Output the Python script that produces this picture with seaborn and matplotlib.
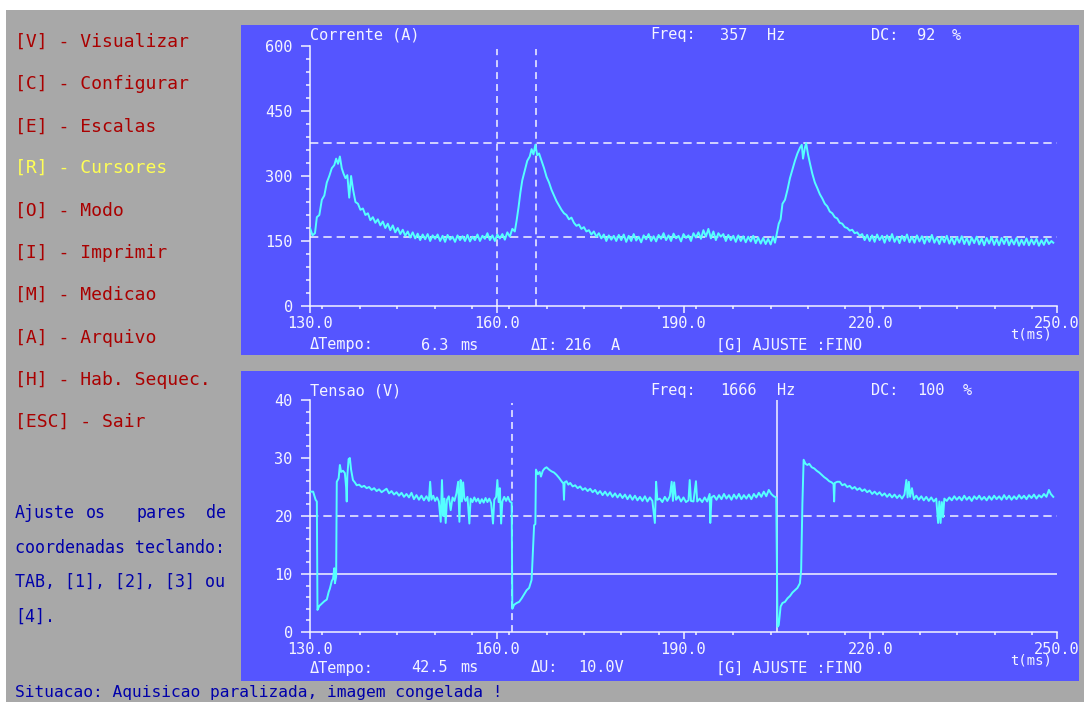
import matplotlib
matplotlib.use("Agg")
import matplotlib.pyplot as plt
from matplotlib.patches import Rectangle
from matplotlib.ticker import MultipleLocator, FormatStrFormatter
import seaborn as sns

# ---------------- data ----------------
menu_items = ["[V] - Visualizar", "[C] - Configurar", "[E] - Escalas", "[R] - Cursores",
              "[O] - Modo", "[I] - Imprimir", "[M] - Medicao", "[A] - Arquivo",
              "[H] - Hab. Sequec.", "[ESC] - Sair"]
menu_active = "[R] - Cursores"

help_words_1 = ["Ajuste", "os", "pares", "de"]
help_line_2 = "coordenadas teclando:"
help_line_3 = "TAB, [1], [2], [3] ou"
help_line_4 = "[4]."
status_text = "Situacao: Aquisicao paralizada, imagem congelada !"

x_ticks = [130.0, 160.0, 190.0, 220.0, 250.0]
cur_yticks = [0, 150, 300, 450, 600]
ten_yticks = [0, 10, 20, 30, 40]

cur_title, cur_freq, cur_dc = "Corrente (A)", "357", "92"
ten_title, ten_freq, ten_dc = "Tensao (V)", "1666", "100"
cur_dt = "6.3"
cur_delta_label, cur_delta_value, cur_delta_unit = "\u0394I:", "216", "A"
ten_dt = "42.5"
ten_delta_label, ten_delta_value = "\u0394U:", "10.0V"

# cursors
cur_cursor_t = [160.0, 166.3]
cur_cursor_a = [160, 376]
ten_cursor_t = [162.5, 205.0]
ten_cursor_v = [20, 10]

# current trace (t in ms, I in A)
cur_t = [130.0, 130.4, 130.8, 131.1, 131.5, 131.9, 132.3, 132.7, 133.1, 133.5, 133.9, 134.2, 134.5, 134.8,
         135.1, 135.4, 135.7, 136.0, 136.3, 136.6, 136.9, 137.3, 137.7, 138.1, 138.5, 138.9, 139.3, 139.7,
         140.1, 140.5, 140.9, 141.3, 141.7, 142.1, 142.5, 142.9, 143.3, 143.7, 144.1, 144.5, 144.9, 145.3,
         145.7, 146.1, 146.5, 146.9, 147.3, 147.7, 148.1, 148.5, 148.9, 149.3, 149.7, 150.1, 150.5, 150.9,
         151.3, 151.7, 152.1, 152.5, 152.9, 153.3, 153.7, 154.1, 154.5, 154.9, 155.3, 155.7, 156.1, 156.5,
         156.9, 157.3, 157.7, 158.1, 158.5, 158.9, 159.3, 159.7, 160.1, 160.5, 160.9, 161.3, 161.7, 162.1,
         162.5, 162.9, 163.2, 163.5, 163.8, 164.1, 164.5, 164.9, 165.3, 165.6, 165.9, 166.2, 166.5, 166.8,
         167.2, 167.6, 168.0, 168.4, 168.8, 169.2, 169.6, 170.0, 170.4, 170.8, 171.2, 171.6, 172.0, 172.4,
         172.8, 173.2, 173.6, 174.0, 174.4, 174.8, 175.2, 175.6, 176.0, 176.4, 176.8, 177.2, 177.6, 178.0,
         178.4, 178.8, 179.2, 179.6, 180.0, 180.4, 180.8, 181.2, 181.6, 182.0, 182.4, 182.8, 183.2, 183.6,
         184.0, 184.4, 184.8, 185.2, 185.6, 186.0, 186.4, 186.8, 187.2, 187.6, 188.0, 188.4, 188.8, 189.2,
         189.6, 190.0, 190.4, 190.8, 191.2, 191.6, 192.0, 192.4, 192.8, 193.2, 193.6, 194.0, 194.4, 194.8,
         195.2, 195.6, 196.0, 196.4, 196.8, 197.2, 197.6, 198.0, 198.4, 198.8, 199.2, 199.6, 200.0, 200.4,
         200.8, 201.2, 201.6, 202.0, 202.4, 202.8, 203.2, 203.6, 204.0, 204.4, 204.7, 205.0, 205.3, 205.6,
         205.9, 206.3, 206.7, 207.1, 207.5, 207.9, 208.3, 208.7, 209.0, 209.2, 209.5, 209.7, 210.0, 210.3,
         210.7, 211.1, 211.5, 211.9, 212.3, 212.7, 213.1, 213.5, 213.9, 214.3, 214.7, 215.1, 215.5, 215.9,
         216.3, 216.7, 217.1, 217.5, 217.9, 218.3, 218.7, 219.1, 219.5, 219.9, 220.3, 220.7, 221.1, 221.5,
         221.9, 222.3, 222.7, 223.1, 223.5, 223.9, 224.3, 224.7, 225.1, 225.5, 225.9, 226.3, 226.7, 227.1,
         227.5, 227.9, 228.3, 228.7, 229.1, 229.5, 229.9, 230.3, 230.7, 231.1, 231.5, 231.9, 232.3, 232.7,
         233.1, 233.5, 233.9, 234.3, 234.7, 235.1, 235.5, 235.9, 236.3, 236.7, 237.1, 237.5, 237.9, 238.3,
         238.7, 239.1, 239.5, 239.9, 240.3, 240.7, 241.1, 241.5, 241.9, 242.3, 242.7, 243.1, 243.5, 243.9,
         244.3, 244.7, 245.1, 245.5, 245.9, 246.3, 246.7, 247.1, 247.5, 247.9, 248.3, 248.7, 249.1, 249.4]
cur_a = [180, 163, 168, 205, 210, 245, 255, 285, 300, 318, 325, 340, 328, 345,
         318, 305, 295, 302, 250, 300, 270, 240, 236, 222, 225, 210, 214, 198,
         205, 192, 200, 186, 195, 180, 190, 175, 186, 170, 180, 166, 176, 162,
         172, 158, 170, 156, 167, 152, 165, 154, 166, 150, 163, 155, 165, 150,
         162, 148, 164, 153, 160, 148, 163, 152, 161, 150, 164, 149, 160, 152,
         165, 150, 162, 155, 168, 152, 163, 150, 165, 156, 166, 153, 170, 160,
         178, 172, 198, 228, 262, 290, 312, 335, 345, 362, 350, 372, 348, 352,
         335, 318, 298, 285, 268, 255, 242, 232, 222, 214, 210, 200, 204, 192,
         185, 188, 178, 182, 172, 175, 165, 172, 160, 168, 156, 165, 150, 163,
         153, 162, 150, 164, 152, 165, 148, 162, 150, 166, 151, 160, 147, 163,
         154, 166, 150, 161, 149, 164, 155, 168, 152, 163, 150, 167, 156, 162,
         149, 166, 157, 163, 150, 168, 158, 170, 155, 175, 160, 178, 156, 172,
         152, 168, 160, 166, 150, 164, 152, 162, 148, 163, 150, 161, 147, 160,
         149, 162, 145, 158, 144, 157, 143, 155, 142, 160, 146, 168, 190, 200,
         236, 245, 268, 295, 315, 335, 352, 365, 372, 340, 365, 376, 350, 330,
         305, 285, 272, 258, 248, 236, 230, 218, 214, 205, 202, 192, 190, 182,
         180, 174, 176, 168, 170, 162, 166, 152, 164, 150, 163, 148, 165, 152,
         162, 146, 163, 150, 166, 148, 160, 145, 162, 150, 165, 147, 160, 146,
         163, 149, 161, 144, 160, 148, 164, 146, 158, 143, 160, 147, 162, 144,
         158, 142, 159, 146, 161, 143, 157, 141, 158, 145, 160, 142, 156, 140,
         157, 144, 159, 141, 155, 140, 157, 143, 158, 140, 154, 142, 157, 139,
         153, 141, 156, 140, 154, 142, 155, 139, 152, 141, 155, 143, 150, 146]

# voltage trace (t in ms, U in V)
ten_t = [130.0, 130.5, 130.9, 131.1, 131.2, 131.5, 131.9, 132.3, 132.7, 133.0, 133.2, 133.5, 133.7, 133.9,
         134.0, 134.2, 134.3, 134.6, 134.8, 135.0, 135.3, 135.6, 135.8, 135.9, 136.0, 136.2, 136.4, 136.6,
         136.9, 137.2, 137.5, 137.9, 138.3, 138.7, 139.1, 139.5, 139.9, 140.3, 140.7, 141.1, 141.5, 141.9,
         142.3, 142.7, 143.1, 143.5, 143.9, 144.3, 144.7, 145.1, 145.5, 145.9, 146.3, 146.7, 147.1, 147.5,
         147.9, 148.3, 148.7, 149.1, 149.3, 149.5, 149.8, 150.1, 150.4, 150.7, 151.0, 151.2, 151.4, 151.6,
         151.8, 152.0, 152.3, 152.6, 152.9, 153.2, 153.5, 153.8, 154.0, 154.2, 154.4, 154.6, 154.8, 155.0,
         155.3, 155.6, 155.8, 156.1, 156.4, 156.7, 157.0, 157.3, 157.6, 157.9, 158.2, 158.5, 158.8, 159.1,
         159.4, 159.6, 159.9, 160.1, 160.3, 160.5, 160.7, 160.9, 161.2, 161.5, 161.8, 162.1, 162.4, 162.5,
         162.8, 163.2, 163.6, 164.0, 164.4, 164.8, 165.2, 165.6, 165.8, 166.0, 166.2, 166.3, 166.6, 166.9,
         167.1, 167.4, 167.7, 168.0, 168.4, 168.8, 169.2, 169.6, 170.0, 170.4, 170.7, 170.8, 170.9, 171.2,
         171.5, 171.8, 172.2, 172.6, 173.0, 173.4, 173.8, 174.2, 174.6, 175.0, 175.4, 175.8, 176.2, 176.6,
         177.0, 177.4, 177.8, 178.2, 178.6, 179.0, 179.4, 179.8, 180.2, 180.6, 181.0, 181.4, 181.8, 182.2,
         182.6, 183.0, 183.4, 183.8, 184.2, 184.6, 185.0, 185.4, 185.6, 185.8, 186.2, 186.6, 187.0, 187.4,
         187.8, 188.1, 188.3, 188.5, 188.8, 189.2, 189.6, 190.0, 190.4, 190.8, 191.0, 191.2, 191.6, 192.0,
         192.2, 192.6, 193.0, 193.4, 193.8, 194.2, 194.3, 194.5, 194.9, 195.3, 195.7, 196.1, 196.5, 196.9,
         197.3, 197.7, 198.1, 198.5, 198.9, 199.3, 199.7, 200.1, 200.5, 200.9, 201.3, 201.7, 202.1, 202.5,
         202.9, 203.3, 203.7, 204.1, 204.5, 204.9, 205.1, 205.3, 205.6, 205.9, 206.3, 206.7, 207.1, 207.5,
         207.9, 208.3, 208.7, 208.9, 209.1, 209.3, 209.6, 209.9, 210.2, 210.6, 211.0, 211.4, 211.8, 212.2,
         212.6, 213.0, 213.4, 213.8, 214.1, 214.2, 214.3, 214.7, 215.1, 215.5, 215.9, 216.3, 216.7, 217.1,
         217.5, 217.9, 218.3, 218.7, 219.1, 219.5, 219.9, 220.3, 220.7, 221.1, 221.5, 221.9, 222.3, 222.7,
         223.1, 223.5, 223.9, 224.3, 224.7, 225.1, 225.5, 225.8, 226.0, 226.2, 226.4, 226.7, 227.0, 227.4,
         227.8, 228.2, 228.6, 229.0, 229.4, 229.8, 230.2, 230.6, 230.9, 231.1, 231.3, 231.5, 231.7, 231.9,
         232.3, 232.7, 233.1, 233.5, 233.9, 234.3, 234.7, 235.1, 235.5, 235.9, 236.3, 236.7, 237.1, 237.5,
         237.9, 238.3, 238.7, 239.1, 239.5, 239.9, 240.3, 240.7, 241.1, 241.5, 241.9, 242.3, 242.7, 243.1,
         243.5, 243.9, 244.3, 244.7, 245.1, 245.5, 245.9, 246.3, 246.7, 247.1, 247.5, 247.9, 248.3, 248.7,
         249.0, 249.4]
ten_v = [24.2, 24.2, 22.8, 22.5, 3.8, 4.5, 4.9, 5.3, 5.6, 6.9, 7.5, 8.8, 9.2, 11.0,
         8.4, 9.5, 25.9, 26.5, 28.8, 27.6, 27.8, 27.4, 25.0, 22.5, 27.0, 29.8, 30.0, 28.0,
         26.2, 25.8, 25.3, 25.4, 25.0, 25.2, 24.8, 25.0, 24.5, 24.8, 24.3, 24.6, 24.1, 24.4,
         24.7, 23.9, 24.3, 23.7, 24.1, 23.5, 24.0, 23.3, 23.8, 23.2, 24.0, 22.9, 23.6, 22.8,
         23.5, 22.7, 23.4, 22.6, 25.9, 22.8, 23.5, 22.6, 23.2, 22.5, 19.0, 26.2, 20.0, 23.0,
         18.8, 22.8, 23.4, 21.0, 23.2, 22.6, 23.8, 25.9, 19.0, 26.2, 22.5, 25.8, 23.0, 22.6,
         23.3, 18.7, 23.0, 22.4, 23.2, 22.5, 23.0, 22.2, 22.9, 22.3, 23.1, 22.4, 23.0, 22.2,
         18.7, 22.8, 23.3, 26.2, 22.4, 24.8, 18.7, 22.5, 23.3, 22.6, 23.3, 22.5, 22.3, 4.0,
         4.7, 5.0, 5.2, 5.8, 6.5, 7.2, 7.6, 9.0, 13.8, 18.4, 18.6, 28.0, 27.2, 27.6,
         26.8, 27.8, 28.2, 28.4, 28.0, 27.7, 27.5, 27.1, 26.6, 26.0, 25.6, 22.8, 25.8, 26.0,
         25.4, 25.7, 25.1, 25.3, 24.8, 25.1, 24.5, 24.8, 24.3, 24.7, 24.1, 24.5, 23.8, 24.3,
         23.6, 24.2, 23.5, 24.1, 23.3, 23.9, 23.2, 23.8, 23.1, 23.7, 22.9, 23.6, 22.8, 23.5,
         22.7, 23.3, 22.6, 23.4, 22.5, 23.2, 22.6, 18.8, 25.9, 22.8, 23.0, 22.4, 23.3, 22.6,
         23.4, 25.9, 22.6, 25.8, 22.8, 23.4, 22.5, 23.2, 22.4, 22.7, 26.2, 22.6, 22.5, 26.0,
         22.5, 23.0, 22.4, 23.2, 22.5, 23.8, 18.8, 23.2, 23.5, 22.8, 23.6, 22.9, 23.8, 23.0,
         23.6, 22.8, 23.7, 23.0, 23.8, 22.9, 23.6, 23.0, 23.7, 22.9, 23.8, 23.2, 24.0, 23.3,
         24.2, 23.4, 24.5, 23.8, 23.4, 23.2, 0.9, 1.2, 4.4, 5.0, 5.2, 5.8, 6.2, 6.8,
         7.2, 7.6, 8.4, 10.7, 22.2, 29.7, 29.0, 28.8, 29.0, 28.4, 28.2, 27.8, 27.5, 27.1,
         26.7, 26.4, 26.0, 25.8, 25.5, 22.5, 25.7, 25.9, 25.9, 25.3, 25.5, 25.0, 25.2, 24.7,
         25.0, 24.5, 24.8, 24.3, 24.6, 24.1, 24.4, 23.8, 24.2, 23.7, 24.1, 23.5, 23.9, 23.3,
         23.8, 23.2, 23.7, 23.1, 23.6, 23.0, 23.7, 26.2, 23.2, 25.9, 23.3, 24.8, 22.9, 23.5,
         22.8, 23.4, 22.7, 23.3, 22.6, 23.2, 22.5, 23.0, 18.8, 22.5, 18.8, 22.4, 19.8, 23.0,
         22.6, 23.2, 22.7, 23.4, 22.8, 23.3, 22.7, 23.5, 22.8, 23.3, 22.6, 23.4, 22.9, 23.5,
         22.8, 23.3, 22.7, 23.4, 22.8, 23.5, 22.9, 23.4, 22.8, 23.6, 22.9, 23.5, 22.8, 23.4,
         22.9, 23.6, 23.0, 23.5, 22.9, 23.6, 23.1, 23.7, 23.0, 23.6, 23.2, 23.8, 23.3, 24.5,
         23.8, 23.3]

# ---------------- styling ----------------
W, H = 1084, 702
GRAY = "#A8A8A8"
BLUE = "#5555FF"
CYAN = "#55FFFF"
WHITE = "#F4F4FF"
RED = "#AA0000"
YELLOW = "#FFFF55"
DKBLUE = "#0000AA"
MONO = "DejaVu Sans Mono"

plt.rcParams["font.family"] = [MONO, "DejaVu Sans"]
plt.rcParams["lines.scale_dashes"] = False

fig = plt.figure(figsize=(W / 100, H / 100), dpi=100)
fig.patch.set_facecolor("white")


def rect_px(x0, y0, x1, y1, color, z):
    fig.patches.append(Rectangle((x0 / W, 1 - y1 / H), (x1 - x0) / W, (y1 - y0) / H,
                                 transform=fig.transFigure, facecolor=color,
                                 edgecolor="none", zorder=z))


def text_px(x, y, s, color=WHITE, size=11, ha="left", va="center"):
    fig.text(x / W, 1 - y / H, s, color=color, fontsize=size, ha=ha, va=va, family=[MONO, "DejaVu Sans"])


rect_px(6, 10, W, H, GRAY, -10)
rect_px(241, 25, 1079, 355, BLUE, -9)
rect_px(241, 371, 1079, 681, BLUE, -9)

# ---------------- left menu ----------------
menu_y = [42, 84, 127, 168, 211, 253, 295, 338, 380, 422]
for item, yy in zip(menu_items, menu_y):
    text_px(15, yy, item, color=YELLOW if item == menu_active else RED, size=13)

for wd, xx in zip(help_words_1, [15, 86, 137, 206]):
    text_px(xx, 513, wd, color=DKBLUE, size=12)
text_px(15, 548, help_line_2, color=DKBLUE, size=12)
text_px(15, 582, help_line_3, color=DKBLUE, size=12)
text_px(15, 617, help_line_4, color=DKBLUE, size=12)
text_px(15, 693, status_text, color=DKBLUE, size=11.7)


# ---------------- scope axes ----------------
def make_axes(top_px, bot_px, ylim, ymaj, ymin):
    ax = fig.add_axes([310 / W, 1 - bot_px / H, (1057 - 310) / W, (bot_px - top_px) / H])
    ax.set_facecolor("none")
    ax.set_xlim(130, 250)
    ax.set_ylim(*ylim)
    for s in ["top", "right"]:
        ax.spines[s].set_visible(False)
    for s in ["left", "bottom"]:
        ax.spines[s].set_color(WHITE)
        ax.spines[s].set_linewidth(1.1)
    ax.xaxis.set_major_locator(MultipleLocator(30))
    ax.xaxis.set_minor_locator(MultipleLocator(6))
    ax.yaxis.set_major_locator(MultipleLocator(ymaj))
    ax.yaxis.set_minor_locator(MultipleLocator(ymin))
    ax.xaxis.set_major_formatter(FormatStrFormatter("%.1f"))
    ax.yaxis.set_major_formatter(FormatStrFormatter("%d"))
    ax.tick_params(axis="y", which="major", direction="out", length=6.5, width=1.1,
                   color=WHITE, labelcolor=WHITE, labelsize=11, pad=6)
    ax.tick_params(axis="y", which="minor", direction="out", length=3, width=1.1, color=WHITE)
    ax.tick_params(axis="x", which="major", direction="out", length=5, width=1.1,
                   color=WHITE, labelcolor=WHITE, labelsize=11, pad=2)
    ax.tick_params(axis="x", which="minor", direction="out", length=2.5, width=1.1, color=WHITE)
    return ax


ax1 = make_axes(46, 306, (0, 600), 150, 30)
ax1.set_xticks(x_ticks)
ax1.set_yticks(cur_yticks)
for yv in cur_cursor_a:
    ax1.axhline(yv, color=WHITE, lw=1.1, dashes=(6, 3.6), zorder=1)
for tv in cur_cursor_t:
    ax1.vlines(tv, 0, 593, color=WHITE, lw=1.1, linestyles=[(0, (5, 3.6))], zorder=1)
sns.lineplot(x=cur_t, y=cur_a, ax=ax1, color=CYAN, lw=1.4, estimator=None, sort=False, zorder=3)
ax1.set_xlabel("")
ax1.set_ylabel("")

ax2 = make_axes(400, 632, (0, 40), 10, 2)
ax2.set_xticks(x_ticks)
ax2.set_yticks(ten_yticks)
ax2.axhline(ten_cursor_v[0], color=WHITE, lw=1.1, dashes=(6, 3.6), zorder=1)
ax2.axhline(ten_cursor_v[1], color=WHITE, lw=1.1, zorder=1)
ax2.vlines(ten_cursor_t[0], 0, 39.5, color=WHITE, lw=1.1, linestyles=[(0, (5, 3.6))], zorder=1)
ax2.vlines(ten_cursor_t[1], 0, 40, color=WHITE, lw=1.1, zorder=1)
sns.lineplot(x=ten_t, y=ten_v, ax=ax2, color=CYAN, lw=1.4, estimator=None, sort=False, zorder=3)
ax2.set_xlabel("")
ax2.set_ylabel("")

# ---------------- panel texts ----------------
for (ytop, ttl, fq, dc, dc_x) in [(35, cur_title, cur_freq, cur_dc, 952), (391, ten_title, ten_freq, ten_dc, 963)]:
    text_px(310, ytop, ttl)
    text_px(650, ytop, "Freq:")
    text_px(720, ytop, fq)
    text_px(720 + 10 * len(fq) + 17, ytop, "Hz")
    text_px(871, ytop, "DC:")
    text_px(917, ytop, dc)
    text_px(dc_x, ytop, "%")

for yb in (335, 661):
    text_px(1031, yb, "t(ms)", size=10, ha="center")

# top info line
text_px(310, 345, "\u0394Tempo:")
text_px(448, 345, cur_dt, ha="right")
text_px(460, 345, "ms")
text_px(531, 345, cur_delta_label)
text_px(565, 345, cur_delta_value)
text_px(611, 345, cur_delta_unit)
text_px(716, 345, "[G] AJUSTE :FINO")

# bottom info line
text_px(310, 668, "\u0394Tempo:")
text_px(448, 668, ten_dt, ha="right")
text_px(460, 668, "ms")
text_px(531, 668, ten_delta_label)
text_px(578, 668, ten_delta_value)
text_px(716, 668, "[G] AJUSTE :FINO")

fig.savefig("out.png", dpi=100, facecolor=fig.get_facecolor())
